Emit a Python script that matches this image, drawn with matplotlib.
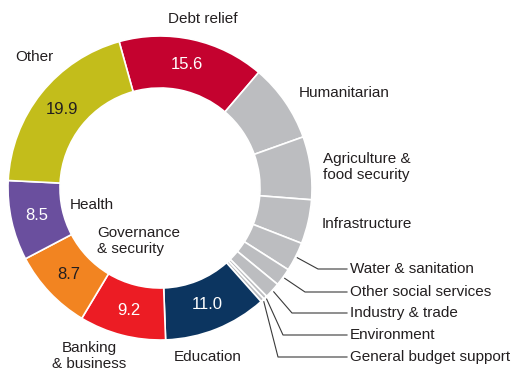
import matplotlib.pyplot as plt
import numpy as np

# shares (%) clockwise from the top, starting with Debt relief
sectors = ['Debt relief', 'Humanitarian', 'Agriculture &\nfood security', 'Infrastructure',
           'Water & sanitation', 'Other social services', 'Industry & trade', 'Environment',
           'General budget support', 'Education', 'Banking\n& business', 'Governance\n& security',
           'Health', 'Other']
shares = [15.6, 8.3, 6.7, 4.7, 3.1, 1.9, 1.7, 0.4, 0.4, 11.0, 9.2, 8.7, 8.5, 19.9]
shown = ['15.6', '', '', '', '', '', '', '', '', '11.0', '9.2', '8.7', '8.5', '19.9']
colors = ['#c4022f'] + ['#bcbdc0'] * 8 + ['#0c3560', '#ec1c24', '#f28421', '#6a4f9e', '#c3bd1b']
value_colors = ['white'] * 11 + ['#231f20', 'white', '#231f20']

FONT = ['Liberation Sans', 'DejaVu Sans']
TXT = '#231f20'

fig = plt.figure(figsize=(5.2, 3.72), dpi=100)
ax = fig.add_axes([0, 0, 1, 1])

cx, cy, R, W = 160, 184, 152, 52
wedges, _ = ax.pie(shares, colors=colors, startangle=105.6, counterclock=False,
                   radius=R, center=(cx, cy),
                   wedgeprops=dict(width=W, edgecolor='white', linewidth=1.2))
ax.set_xlim(0, 520)
ax.set_ylim(0, 372)
ax.set_aspect('equal')
ax.axis('off')

for w, txt, c in zip(wedges, shown, value_colors):
    if not txt:
        continue
    a = np.deg2rad((w.theta1 + w.theta2) / 2)
    r = R - W / 2
    ax.text(cx + r * np.cos(a), cy + r * np.sin(a), txt, color=c, fontsize=12,
            family=FONT, ha='center', va='center')

# category labels (pixel positions measured from the top)
def label(x, y, s, ha='left'):
    ax.text(x, 372 - y, s, fontsize=11, family=FONT, color=TXT, ha=ha, va='center',
            linespacing=1.15)

label(203, 19, sectors[0], 'center')
label(15, 57, sectors[13])
label(299, 93, sectors[1])
label(323, 167, sectors[2])
label(322, 224, sectors[3])
label(70, 205, sectors[12])
label(97, 241, sectors[11])
label(89, 356, sectors[10], 'center')
label(174, 357, sectors[9])

# small slices with leader lines
small = [4, 5, 6, 7, 8]
label_y = [269, 292, 313, 335, 357]
elbow_x = [318, 305, 292, 283, 278]
for i, ly, ex in zip(small, label_y, elbow_x):
    w = wedges[i]
    a = np.deg2rad((w.theta1 + w.theta2) / 2)
    x0, y0 = cx + (R + 2) * np.cos(a), cy + (R + 2) * np.sin(a)
    ax.plot([x0, ex, 347], [y0, 372 - ly, 372 - ly], color='#3a3a3a', lw=0.8)
    label(350, ly, sectors[i])

fig.savefig('out.png', dpi=100)
